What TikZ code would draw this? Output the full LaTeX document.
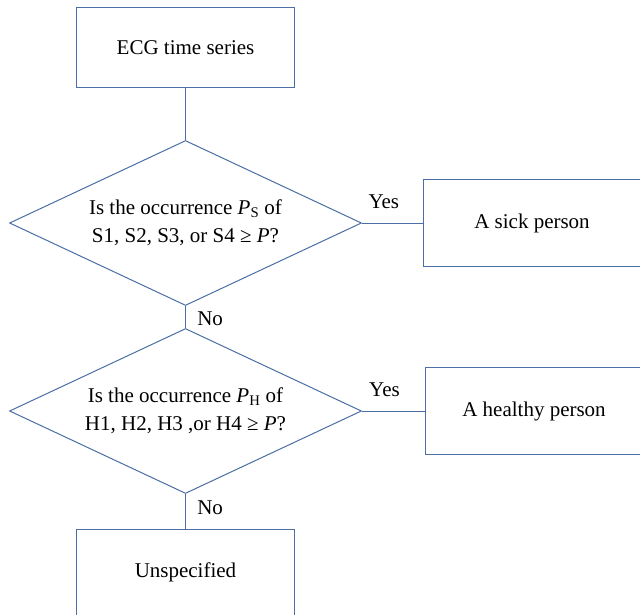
\documentclass[tikz,border=0pt]{standalone}
\usepackage{fontspec}
\setmainfont{Liberation Serif}
\usetikzlibrary{shapes.geometric}
\definecolor{flowblue}{RGB}{74,110,165}
\begin{document}
\begin{tikzpicture}[x=1pt,y=-1pt,every node/.style={font=\fontsize{21}{28}\selectfont},
  box/.style={draw=flowblue,line width=1pt,minimum width=218pt,minimum height=87pt,inner sep=0pt},
  decide/.style={draw=flowblue,line width=1pt,diamond,shape aspect=2.13,minimum width=352pt,minimum height=165pt,inner sep=0pt,align=center},
  link/.style={draw=flowblue,line width=1pt}]
\clip (0,0) rectangle (640,615);
\node[box,minimum height=80pt] (ecg) at (185.5,48) {ECG time series};
\node[decide] (qsick) at (185.5,223) {Is the occurrence \textit{P}\textsubscript{S} of\\ S1, S2, S3, or S4 ≥ \textit{P}?};
\node[box] (sick) at (532,223) {A sick person};
\node[decide] (qhealthy) at (185.5,411) {Is the occurrence \textit{P}\textsubscript{H} of\\ H1, H2, H3 ,or H4 ≥ \textit{P}?};
\node[box] (healthy) at (534,411) {A healthy person};
\node[box] (unspec) at (185.5,572.5) {Unspecified};
\draw[link] (ecg.south) -- (qsick.north);
\draw[link] (qsick.east) -- (sick.west) node[pos=.36,above=10pt] {Yes};
\draw[link] (qsick.south) -- (qhealthy.north) node[midway,right=8pt,yshift=-2pt] {No};
\draw[link] (qhealthy.east) -- (healthy.west) node[pos=.36,above=10pt] {Yes};
\draw[link] (qhealthy.south) -- (unspec.north) node[midway,right=8pt,yshift=4pt] {No};
\end{tikzpicture}
\end{document}
